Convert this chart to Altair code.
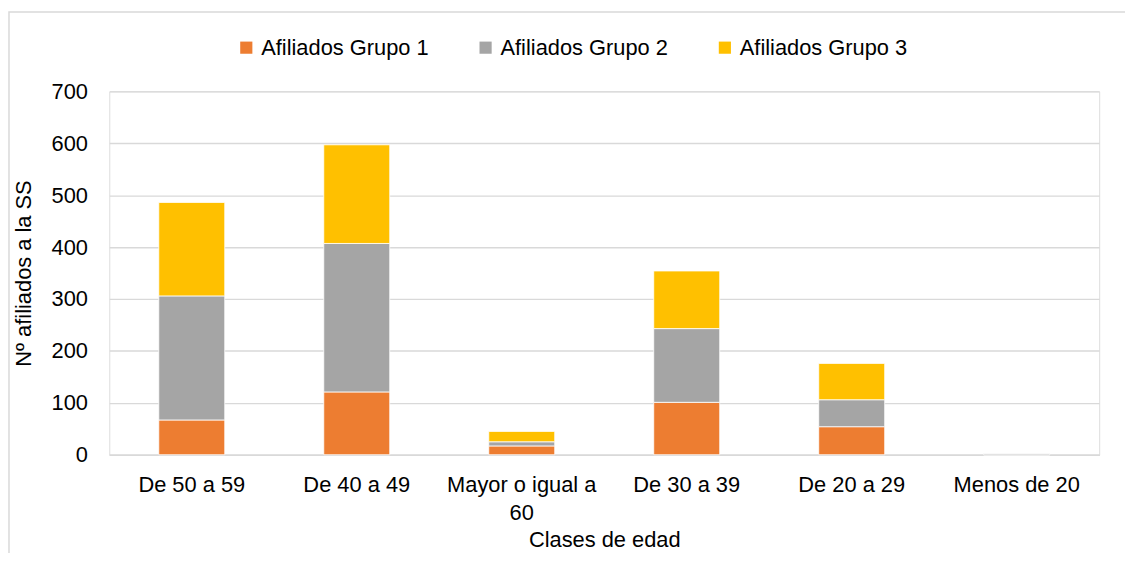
import altair as alt
import pandas as pd

categories = ["De 50 a 59", "De 40 a 49", "Mayor o igual a 60", "De 30 a 39", "De 20 a 29", "Menos de 20"]
grupo1 = [67, 121, 17, 101, 54, 0]
grupo2 = [239, 286, 8, 142, 52, 3]
grupo3 = [180, 190, 20, 111, 70, 0]
series = ["Afiliados Grupo 1", "Afiliados Grupo 2", "Afiliados Grupo 3"]
colors = ["#ED7D31", "#A5A5A5", "#FFC000"]

rows = []
for i, c in enumerate(categories):
    for k, vals in enumerate([grupo1, grupo2, grupo3]):
        rows.append({"clase": c, "serie": series[k], "orden": k, "valor": vals[i]})
df = pd.DataFrame(rows)

FONT = "Liberation Sans"
FS = 22

bars = alt.Chart(df).mark_bar(stroke="white", strokeWidth=0.8).encode(
    x=alt.X("clase:N", sort=categories, title="Clases de edad",
            scale=alt.Scale(paddingInner=0.6, paddingOuter=0.3),
            axis=alt.Axis(labelAngle=0, labelFontSize=FS, labelColor="#000000", labelFont=FONT,
                          titleFontSize=FS, titleFont=FONT, titleColor="#000000", titleFontWeight="normal",
                          ticks=False, domainColor="#D9D9D9", domainWidth=1.3, labelPadding=20,
                          titlePadding=6, labelLineHeight=28,
                          labelExpr="datum.label == 'Mayor o igual a 60' ? ['Mayor o igual a', '60'] : datum.label")),
    y=alt.Y("valor:Q", title="Nº afiliados a la SS", stack="zero",
            scale=alt.Scale(domain=[0, 700], nice=False),
            axis=alt.Axis(values=[0, 100, 200, 300, 400, 500, 600, 700], labelFontSize=FS, labelFont=FONT,
                          labelColor="#000000", titleFontSize=FS, titleFont=FONT, titleColor="#000000",
                          titleFontWeight="normal", ticks=False, domain=False, gridColor="#D9D9D9",
                          gridWidth=1.3, labelPadding=22, titlePadding=16)),
    color=alt.Color("serie:N", scale=alt.Scale(domain=series, range=colors),
                    legend=alt.Legend(title=None, orient="none", direction="horizontal",
                                      legendX=127, legendY=-55, symbolType="square", symbolSize=150,
                                      symbolStrokeWidth=0, labelFontSize=FS, labelFont=FONT,
                                      labelColor="#000000", columnPadding=46, symbolOffset=0,
                                      labelOffset=4, labelLimit=400)),
    order=alt.Order("orden:Q", sort="ascending"),
)

frame = alt.Chart(pd.DataFrame({"a": [0]})).mark_rect(
    fill=None, stroke="#D9D9D9", strokeWidth=1.5
).encode(
    x=alt.value(-101), x2=alt.value(1040), y=alt.value(-80), y2=alt.value(480)
)

chart = alt.layer(frame, bars).properties(
    width=997, height=366,
    autosize=alt.AutoSizeParams(type="none"),
    padding={"left": 102, "top": 82, "right": 26, "bottom": 97},
).configure_view(stroke=None).configure(font=FONT)

chart.save("out.html", embed_options={"renderer": "svg", "actions": False})
